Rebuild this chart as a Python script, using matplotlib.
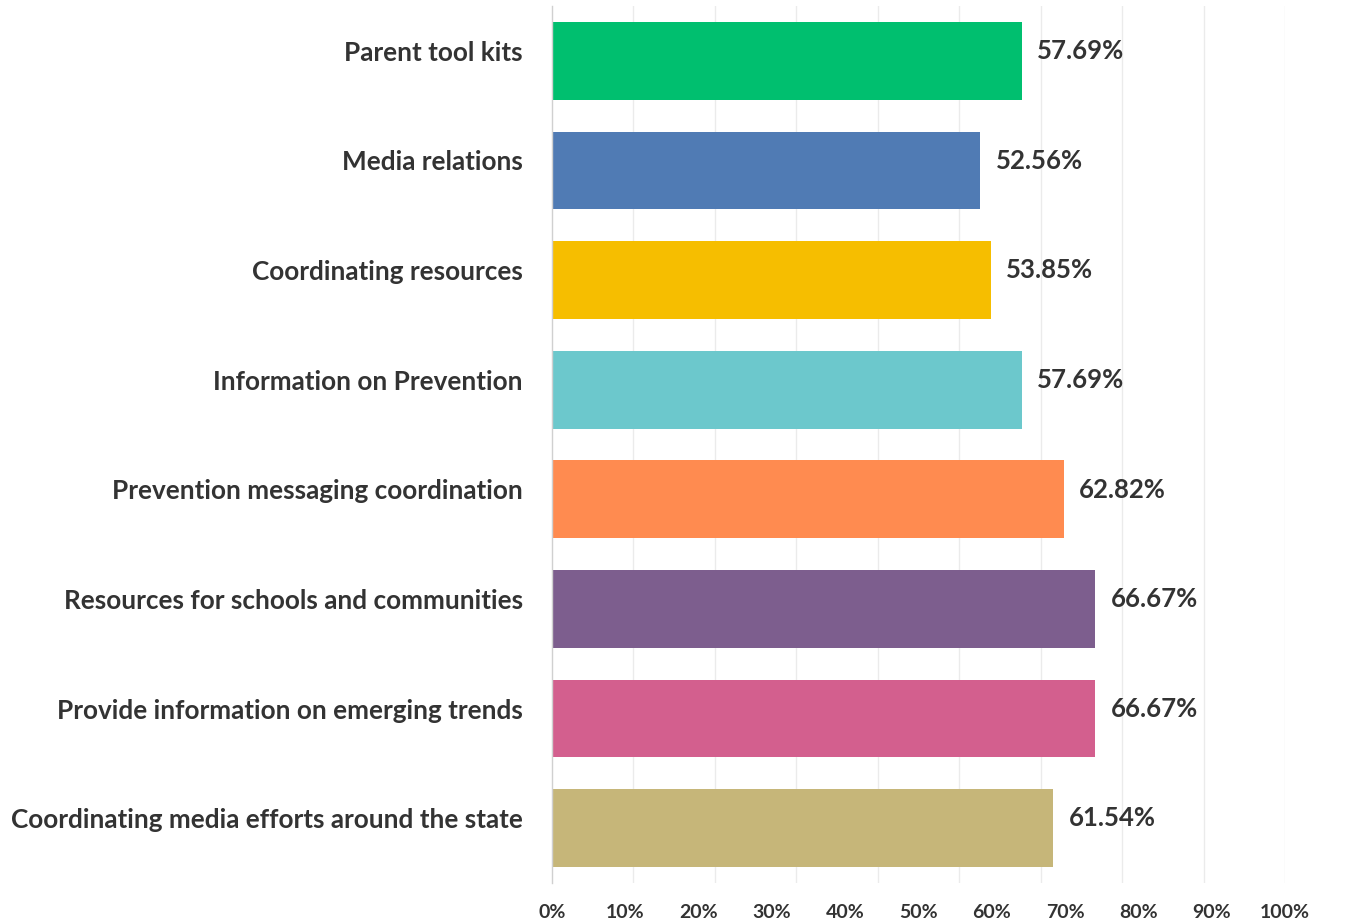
import numpy as np
import matplotlib.pyplot as plt
from matplotlib.transforms import ScaledTranslation

# survey items and share of respondents (%)
categories = [
    "Parent tool kits",
    "Media relations",
    "Coordinating resources",
    "Information on Prevention",
    "Prevention messaging coordination",
    "Resources for schools and communities",
    "Provide information on emerging trends",
    "Coordinating media efforts around the state",
]
values = [57.69, 52.56, 53.85, 57.69, 62.82, 66.67, 66.67, 61.54]
colors = ["#00BF6F", "#507BB4", "#F6BE00", "#6CC8CC", "#FF8B50",
          "#7D5E8E", "#D35F8E", "#C6B679"]
tick_labels = ["0%", "10%", "20%", "30%", "40%", "50%", "60%", "70%", "80%", "90%", "100%"]

plt.rcParams['font.family'] = ['Lato', 'DejaVu Sans']
txt = "#333333"

fig = plt.figure(figsize=(13.57, 9.24), dpi=100)
ax = fig.add_axes([0.4068, 0.0444, 0.5403, 0.9491])

y = np.arange(len(categories))
ax.barh(y, values, height=0.71, color=colors, zorder=2)

ax.set_xlim(0, 90)
ax.set_ylim(len(categories) - 0.5, -0.5)

# light vertical grid every 10 units
for gx in range(10, 91, 10):
    ax.axvline(gx, color="#ebebeb", lw=1, zorder=1)

for s in ["top", "right", "bottom"]:
    ax.spines[s].set_visible(False)
ax.spines["left"].set_color("#d0d0d0")
ax.spines["left"].set_linewidth(1)

# category labels
ax.set_yticks(y)
ax.set_yticklabels(categories, fontsize=18.8, fontweight="bold", color=txt)
ax.tick_params(axis="y", length=0, pad=21)
shift = ScaledTranslation(0, 10 / 100, fig.dpi_scale_trans)
for lab in ax.get_yticklabels():
    lab.set_transform(lab.get_transform() + shift)

# percent axis labels
ax.set_xticks(np.linspace(0, 90, len(tick_labels)))
ax.set_xticklabels(tick_labels, fontsize=14, fontweight="bold", color=txt)
ax.tick_params(axis="x", length=0, pad=15)

# value labels
for yi, v in zip(y, values):
    ax.annotate(f"{v:.2f}%", (v, yi), xytext=(11, 7), textcoords="offset points",
                ha="left", va="center", fontsize=18.5, fontweight="bold", color=txt)

fig.savefig("out.png", dpi=100)
